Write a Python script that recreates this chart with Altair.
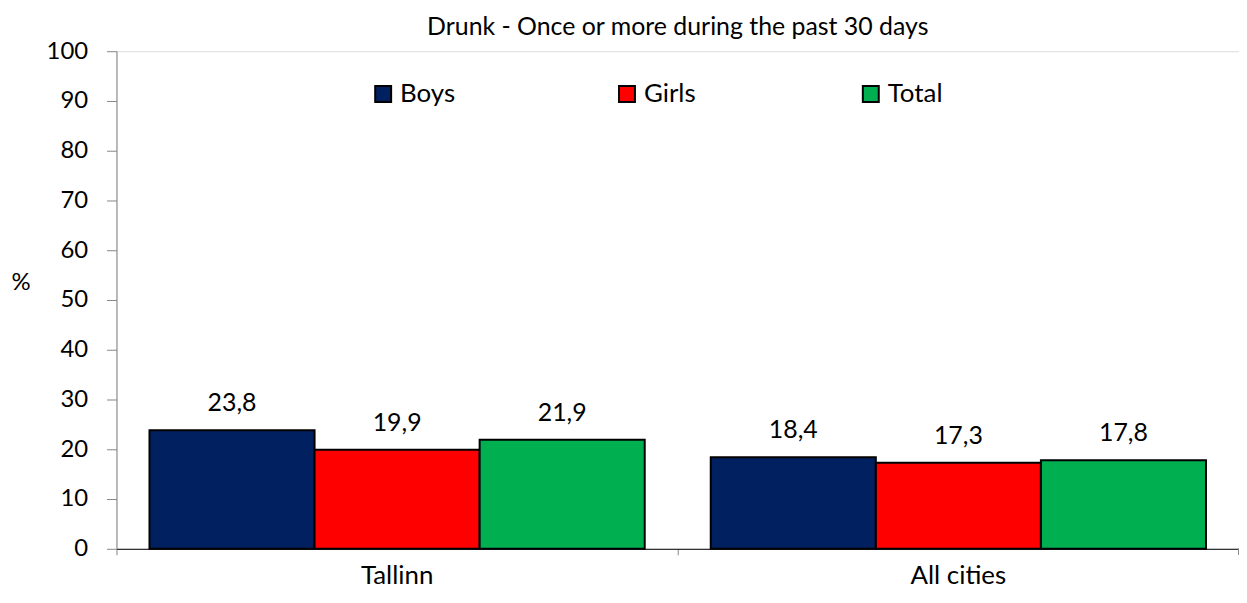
import altair as alt
import pandas as pd

cities = ["Tallinn", "All cities"]
groups = ["Boys", "Girls", "Total"]
boys = [23.8, 18.4]
girls = [19.9, 17.3]
total = [21.9, 17.8]
colors = ["#002060", "#FF0000", "#00B050"]
y_ticks = list(range(0, 101, 10))

rows = []
for i, c in enumerate(cities):
    for g, vals in zip(groups, [boys, girls, total]):
        v = vals[i]
        rows.append({"city": c, "group": g, "value": v,
                     "label": f"{v:.1f}".replace(".", ",")})
df = pd.DataFrame(rows)

FONT = "Lato"
W, H = 1128, 500

x_enc = alt.X("city:N", sort=cities, title=None,
              scale=alt.Scale(paddingInner=0, paddingOuter=0),
              axis=alt.Axis(labelAngle=0, labelFontSize=26, labelFont=FONT,
                            labelColor="black", bandPosition=0,
                            labelBaseline="alphabetic",
                            tickSize=6, tickColor="#868686", domainColor="black",
                            labelPadding=29, grid=False))
xo_enc = alt.XOffset("group:N", sort=groups,
                     scale=alt.Scale(paddingInner=0, paddingOuter=0.2))
y_enc = alt.Y("value:Q", title="%",
              scale=alt.Scale(domain=[0, 100], nice=False),
              axis=alt.Axis(values=y_ticks, labelFontSize=24, labelFont=FONT,
                            labelColor="black", tickSize=10, tickColor="#868686",
                            domainColor="#868686", labelPadding=19, grid=False,
                            titleAngle=0, titleFontSize=24, titleFont=FONT,
                            titleFontWeight="normal", titleColor="black",
                            titleX=-106, titleY=244, titleAlign="left"))

base = alt.Chart(df)

bars = base.mark_bar(stroke="black", strokeWidth=2).encode(
    x=x_enc, xOffset=xo_enc, y=y_enc,
    color=alt.Color("group:N", sort=groups,
                    scale=alt.Scale(domain=groups, range=colors),
                    legend=alt.Legend(title=None, orient="none", direction="horizontal",
                                      columns=3, gridAlign="all", columnPadding=159,
                                      legendX=255, legendY=30,
                                      symbolType="square", symbolSize=256,
                                      symbolStrokeColor="black", symbolStrokeWidth=2,
                                      labelFontSize=26, labelFont=FONT, labelColor="black",
                                      labelOffset=4)),
)

texts = base.mark_text(baseline="alphabetic", dy=-19, fontSize=25, font=FONT,
                       color="black").encode(
    x=alt.X("city:N", sort=cities), xOffset=alt.XOffset("group:N", sort=groups),
    y="value:Q", text="label:N")

end_tick = alt.Chart(df).mark_rule(color="#868686", strokeWidth=1).encode(
    x=alt.value(W), y=alt.value(H), y2=alt.value(H + 6))

chart = alt.layer(bars, texts, end_tick).properties(
    width=W, height=H,
    title=alt.TitleParams("Drunk - Once or more during the past 30 days",
                          fontSize=25, font=FONT, fontWeight="normal", color="black",
                          offset=-1),
    autosize=alt.AutoSizeParams(type="none"),
    padding={"left": 109, "top": 42, "right": 0, "bottom": 41},
).configure_view(stroke=None).configure(background="white")

chart.save("out.html", embed_options={"renderer": "svg", "actions": False})
